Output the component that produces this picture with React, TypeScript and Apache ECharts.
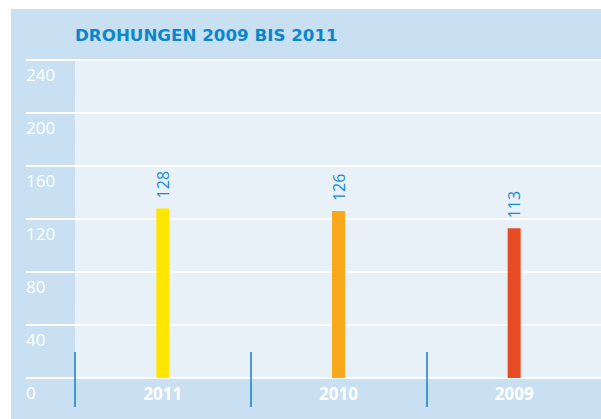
import React, { useEffect, useRef } from "react";
import * as echarts from "echarts";

const title = "DROHUNGEN 2009 BIS 2011";
const categories = ["2011", "2010", "2009"];
const values = [128, 126, 113];
const barColors = ["#ffe500", "#f9a81c", "#e84c24"];
const yMin = 0;
const yMax = 240;
const yInterval = 40;

export default function App() {
  const ref = useRef<HTMLDivElement>(null);
  useEffect(() => {
    if (!ref.current) return;
    const chart = echarts.init(ref.current, undefined, { renderer: "svg" });
    const font = "'Open Sans', 'DejaVu Sans', sans-serif";
    chart.setOption({
      animation: false,
      backgroundColor: "#c9dff2",
      textStyle: { fontFamily: font },
      title: {
        text: title,
        left: 64,
        top: 17,
        padding: 0,
        textStyle: { color: "#0a87cb", fontSize: 16.7, fontWeight: "bold", fontFamily: "'DejaVu Sans', sans-serif" },
      },
      grid: [
        { left: 15, width: 580, top: 51, bottom: 41, show: false },
        { left: 64, width: 527, top: 51, bottom: 41, show: true, backgroundColor: "#e8f0f8", borderWidth: 0 },
      ],
      xAxis: [
        {
          type: "category",
          gridIndex: 1,
          data: categories,
          position: "bottom",
          axisLine: { show: false },
          axisTick: { show: true, length: 29, lineStyle: { color: "#1a7cc2", width: 1.5 } },
          axisLabel: { color: "#ffffff", fontSize: 17, fontWeight: "bold", margin: 7, fontFamily: font },
        },
        {
          type: "category",
          gridIndex: 1,
          data: categories,
          position: "bottom",
          axisLine: { show: false },
          axisTick: { show: true, inside: true, length: 26, lineStyle: { color: "#1a7cc2", width: 1.5 } },
          axisLabel: { show: false },
        },
        { type: "category", gridIndex: 0, data: categories, show: false },
      ],
      yAxis: [
        {
          type: "value",
          gridIndex: 0,
          min: yMin,
          max: yMax,
          interval: yInterval,
          axisLine: { show: false },
          axisTick: { show: false },
          splitLine: { show: true, lineStyle: { color: "#ffffff", width: 2 } },
          axisLabel: {
            inside: true,
            margin: 0,
            align: "left",
            verticalAlign: "top",
            padding: [6, 0, 0, 0],
            color: "#ffffff",
            fontSize: 17,
            fontFamily: font,
          },
        },
        { type: "value", gridIndex: 1, min: yMin, max: yMax, interval: yInterval, show: false },
      ],
      series: [
        {
          type: "bar",
          xAxisIndex: 0,
          yAxisIndex: 1,
          barWidth: 13,
          data: values.map((v, i) => ({ value: v, itemStyle: { color: barColors[i] } })),
          label: {
            show: true,
            position: "top",
            rotate: 90,
            align: "left",
            verticalAlign: "middle",
            distance: 10,
            color: "#1a8ad0",
            fontSize: 16,
            fontFamily: font,
          },
        },
      ],
    });
    return () => chart.dispose();
  }, []);
  return (
    <div style={{ position: "absolute", left: 11, top: 9, width: 590, height: 410, overflow: "hidden" }}>
      <div ref={ref} style={{ width: 596, height: 410 }} />
    </div>
  );
}
